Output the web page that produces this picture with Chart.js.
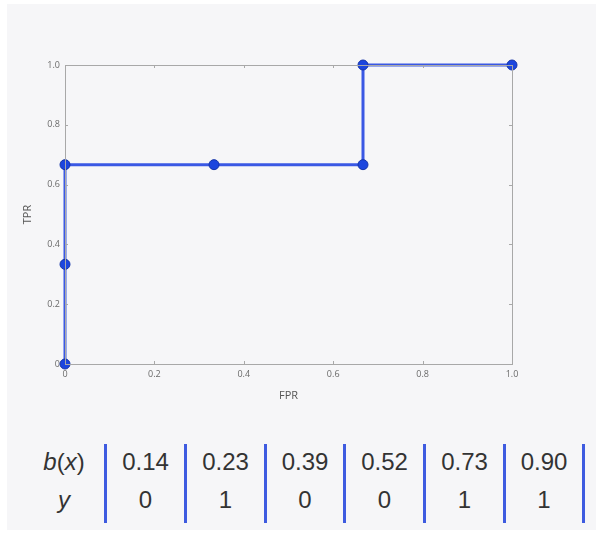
<!DOCTYPE html>
<html>
<head>
<meta charset="utf-8">
<script src="https://cdn.jsdelivr.net/npm/chart.js@4/dist/chart.umd.min.js"></script>
<style>
  html, body { margin: 0; padding: 0; background: #fff; }
  .page { position: relative; width: 596px; height: 536px; overflow: hidden; }
  .bg { position: absolute; left: 7px; top: 4px; right: 0; height: 526px; background: #f6f6f8; }
  .chart-wrap { position: absolute; left: 0; top: 0; width: 596px; height: 420px; }
  .tbl { position: absolute; left: 0; top: 443px; font-family: "Liberation Sans", Arial, sans-serif; font-size: 24px; color: #333; }
  .cell { position: absolute; width: 76px; text-align: center; line-height: 38px; }
  .head { position: absolute; width: 70px; text-align: center; line-height: 38px; }
  .bar { position: absolute; width: 3px; height: 79px; top: 1px; background: #3e5be0; }
</style>
</head>
<body>
<div class="page">
  <div class="bg"></div>
  <div class="chart-wrap"><canvas id="c"></canvas></div>
  <div class="tbl" id="tbl"></div>
</div>
<script>
// ROC points (FPR, TPR)
const fpr = [0, 0, 0, 1/3, 2/3, 2/3, 1];
const tpr = [0, 1/3, 2/3, 2/3, 2/3, 1, 1];
const tickValues = [0, 0.2, 0.4, 0.6, 0.8, 1.0];

// table under the chart
const scores = ['0.14', '0.23', '0.39', '0.52', '0.73', '0.90'];
const labels = ['0', '1', '0', '0', '1', '1'];

const fmt = v => (Math.abs(v) < 1e-9 ? '0' : v.toFixed(1));

// frame + inward ticks on all four sides, like the matplotlib look
const frameTicks = {
  id: 'frameTicks',
  afterDraw(chart) {
    const { ctx, chartArea: a, scales } = chart;
    ctx.save();
    ctx.strokeStyle = '#a8a8a8';
    ctx.lineWidth = 1;
    ctx.strokeRect(a.left + 0.5, a.top + 0.5, a.right - a.left, a.bottom - a.top);
    ctx.beginPath();
    tickValues.forEach(v => {
      const x = Math.round(scales.x.getPixelForValue(v)) + 0.5;
      const y = Math.round(scales.y.getPixelForValue(v)) + 0.5;
      ctx.moveTo(x, a.bottom); ctx.lineTo(x, a.bottom - 3);
      ctx.moveTo(x, a.top); ctx.lineTo(x, a.top + 3);
      ctx.moveTo(a.left, y); ctx.lineTo(a.left + 3, y);
      ctx.moveTo(a.right, y); ctx.lineTo(a.right - 3, y);
    });
    ctx.stroke();
    ctx.restore();
  }
};

const tickFont = { family: '"Open Sans", "DejaVu Sans", sans-serif', size: 9 };
const titleFont = { family: '"Open Sans", "DejaVu Sans", sans-serif', size: 11 };

new Chart(document.getElementById('c'), {
  type: 'scatter',
  data: {
    datasets: [{
      data: fpr.map((x, i) => ({ x, y: tpr[i] })),
      showLine: true,
      borderColor: '#3a58e4',
      borderWidth: 3,
      pointBackgroundColor: '#1c46de',
      pointBorderColor: '#1534a8',
      pointBorderWidth: 1,
      pointRadius: 5,
      clip: false,
    }]
  },
  options: {
    responsive: true, maintainAspectRatio: false,
    animation: false,
    layout: { padding: { left: 17, top: 65, right: 84, bottom: 14 } },
    plugins: { legend: { display: false }, tooltip: { enabled: false } },
    scales: {
      x: {
        type: 'linear', min: 0, max: 1,
        afterBuildTicks: s => { s.ticks = tickValues.map(value => ({ value })); },
        afterFit: s => { s.height = 42; },
        grid: { display: false, drawTicks: false },
        border: { display: false },
        ticks: { color: '#6a6a6a', font: tickFont, padding: 5, maxRotation: 0, callback: fmt },
        title: { display: true, text: 'FPR', color: '#555', font: titleFont, padding: 4 },
      },
      y: {
        type: 'linear', min: 0, max: 1,
        afterBuildTicks: s => { s.ticks = tickValues.map(value => ({ value })); },
        afterFit: s => { s.width = 48; },
        grid: { display: false, drawTicks: false },
        border: { display: false },
        ticks: { color: '#6a6a6a', font: tickFont, padding: 5, callback: fmt },
        title: { display: true, text: 'TPR', color: '#555', font: titleFont, padding: 4 },
      }
    }
  },
  plugins: [frameTicks]
});

// build table
const tbl = document.getElementById('tbl');
const barX = [104, 184, 264, 343, 423, 503, 582];
let html = '<div class="head" style="left:29px;top:0px"><i>b</i>(<i>x</i>)</div>' +
           '<div class="head" style="left:29px;top:38px"><i>y</i></div>';
barX.forEach(x => { html += `<div class="bar" style="left:${x}px"></div>`; });
scores.forEach((s, i) => {
  const l = (barX[i] + barX[i + 1]) / 2 + 1.5 - 38;
  html += `<div class="cell" style="left:${l}px;top:0px">${s}</div>`;
  html += `<div class="cell" style="left:${l}px;top:38px">${labels[i]}</div>`;
});
tbl.innerHTML = html;
</script>
</body>
</html>
